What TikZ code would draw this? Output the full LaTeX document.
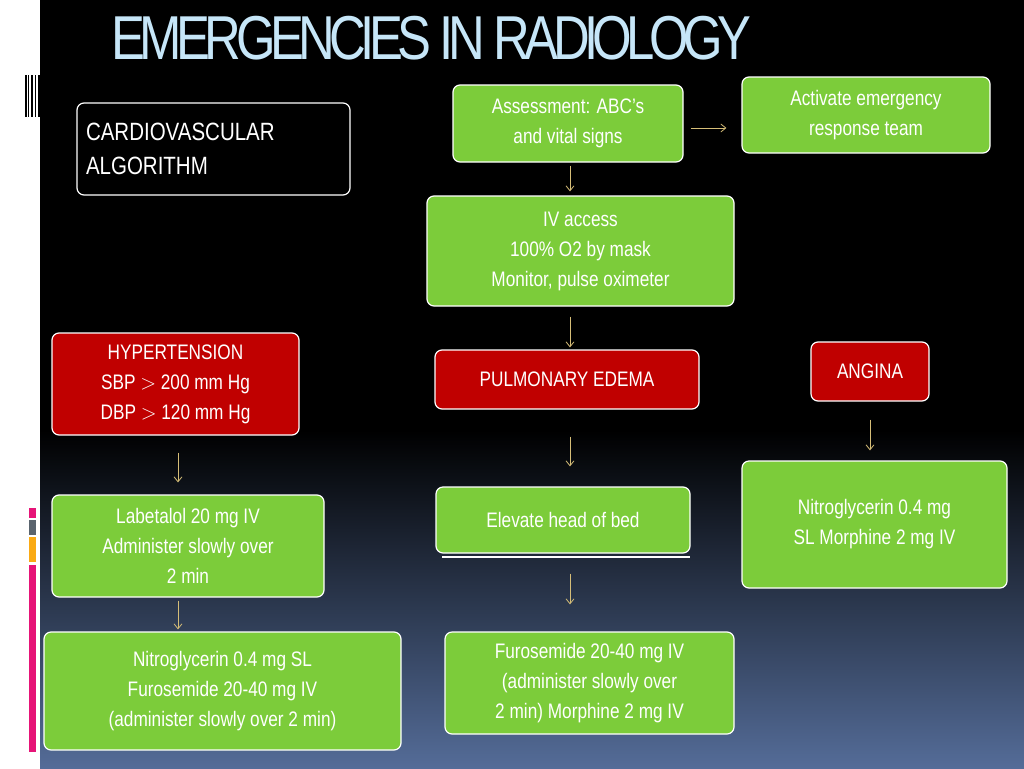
\documentclass[tikz,border=0pt]{standalone}
\usepackage{fontspec}
\setmainfont{Liberation Sans}[FakeStretch=0.82]
\usetikzlibrary{positioning,arrows.meta}
\definecolor{boxgreen}{RGB}{124,204,58}
\definecolor{boxred}{RGB}{192,0,0}
\definecolor{titleblue}{RGB}{198,230,248}
\definecolor{arrowtan}{RGB}{214,190,120}
\definecolor{bottomblue}{RGB}{84,108,152}
\definecolor{barpink}{RGB}{230,20,120}
\definecolor{bargrey}{RGB}{90,100,110}
\definecolor{barorange}{RGB}{250,170,20}
\tikzset{
  box/.style={draw=white, line width=1.2pt, rounded corners=7pt, inner sep=0pt, text=white, font=\fontsize{21}{30}\selectfont, align=center},
  greenbox/.style={box, fill=boxgreen},
  redbox/.style={box, fill=boxred},
  flow/.style={draw=arrowtan, line width=0.8pt, -{Straight Barb[length=5pt,width=8pt]}}
}
\begin{document}
\begin{tikzpicture}[x=1pt,y=-1pt]
	\useasboundingbox (0,0) rectangle (1024,768);
	% background
	\fill[white] (0,0) rectangle (40,768);
	\fill[black] (40,0) rectangle (1024,430);
	\shade[top color=black, bottom color=bottomblue] (40,430) rectangle (1024,768);
	\foreach \x/\w in {25/1.5,28/1,31/2,35/1,38/1.5}
		\fill[black] (\x,75) rectangle (\x+\w,117);
	\fill[barpink] (29,508) rectangle (36,518);
	\fill[bargrey] (29,520) rectangle (36,535);
	\fill[barorange] (29,537) rectangle (36,562);
	\fill[barpink] (29,565) rectangle (36,752);

	\node[text=titleblue, font=\fontsize{62}{62}\selectfont\addfontfeature{LetterSpace=-9}, anchor=west] (title) at (108,38) {EMERGENCIES IN RADIOLOGY};

	% boxes
	\node[box, fill=black, minimum width=273pt, minimum height=92pt, align=left, text width=255pt, font=\fontsize{25}{34}\selectfont] (cardio) at (213.5,149) {CARDIOVASCULAR\\ALGORITHM};
	\node[greenbox, minimum width=230pt, minimum height=77pt] (assess) at (568,123.5) {Assessment: ABC’s\\and vital signs};
	\node[greenbox, minimum width=248pt, minimum height=76pt] (activate) at (866,115) {Activate emergency\\response team};
	\node[greenbox, minimum width=307pt, minimum height=110pt] (iv) at (580.5,251) {IV access\\100\% O2 by mask\\Monitor, pulse oximeter};
	\node[redbox, minimum width=247pt, minimum height=102pt] (hyper) at (175.5,384) {HYPERTENSION\\SBP $>$ 200 mm Hg\\DBP $>$ 120 mm Hg};
	\node[redbox, minimum width=264pt, minimum height=59pt] (pulm) at (567,379.5) {PULMONARY EDEMA};
	\node[redbox, minimum width=118pt, minimum height=59pt] (angina) at (870,371.5) {ANGINA};
	\node[greenbox, minimum width=272pt, minimum height=102pt] (labet) at (188,546) {Labetalol 20 mg IV\\Administer slowly over\\2 min};
	\node[greenbox, minimum width=254pt, minimum height=66pt] (elevate) at (563,520) {Elevate head of bed};
	\draw[white, line width=1.5pt] (442,557) -- (690,557);
	\node[greenbox, minimum width=265pt, minimum height=127pt] (nitroR) at (874.5,524.5) {Nitroglycerin 0.4 mg\\SL Morphine 2 mg IV};
	\node[greenbox, minimum width=357pt, minimum height=118pt] (nitroL) at (222.5,691) {Nitroglycerin 0.4 mg SL\\Furosemide 20-40 mg IV\\(administer slowly over 2 min)};
	\node[greenbox, minimum width=289pt, minimum height=102pt] (furo) at (589.5,683) {Furosemide 20-40 mg IV\\(administer slowly over\\2 min) Morphine 2 mg IV};

	% arrows
	\draw[flow, shorten <=7pt, shorten >=15pt] (assess.east |- activate.west) ++(0,13) coordinate (a1) -- (activate.west |- a1);
	\draw[flow, shorten <=3pt, shorten >=4pt] (assess.south -| 570,0) coordinate (a2) -- (iv.north -| a2);
	\draw[flow, shorten <=10pt, shorten >=2pt] (iv.south -| 570,0) coordinate (a3) -- (pulm.north -| a3);
	\draw[flow, shorten <=27pt, shorten >=20pt] (pulm.south -| 570,0) coordinate (a4) -- (elevate.north -| a4);
	\draw[flow, shorten <=20pt, shorten >=27pt] (elevate.south -| 570,0) coordinate (a5) -- (furo.north -| a5);
	\draw[flow, shorten <=17pt, shorten >=12pt] (hyper.south -| 178,0) coordinate (a6) -- (labet.north -| a6);
	\draw[flow, shorten <=3pt, shorten >=2pt] (labet.south -| 178,0) coordinate (a7) -- (nitroL.north -| a7);
	\draw[flow, shorten <=18pt, shorten >=10pt] (angina.south -| 870,0) coordinate (a8) -- (nitroR.north -| a8);
\end{tikzpicture}
\end{document}
